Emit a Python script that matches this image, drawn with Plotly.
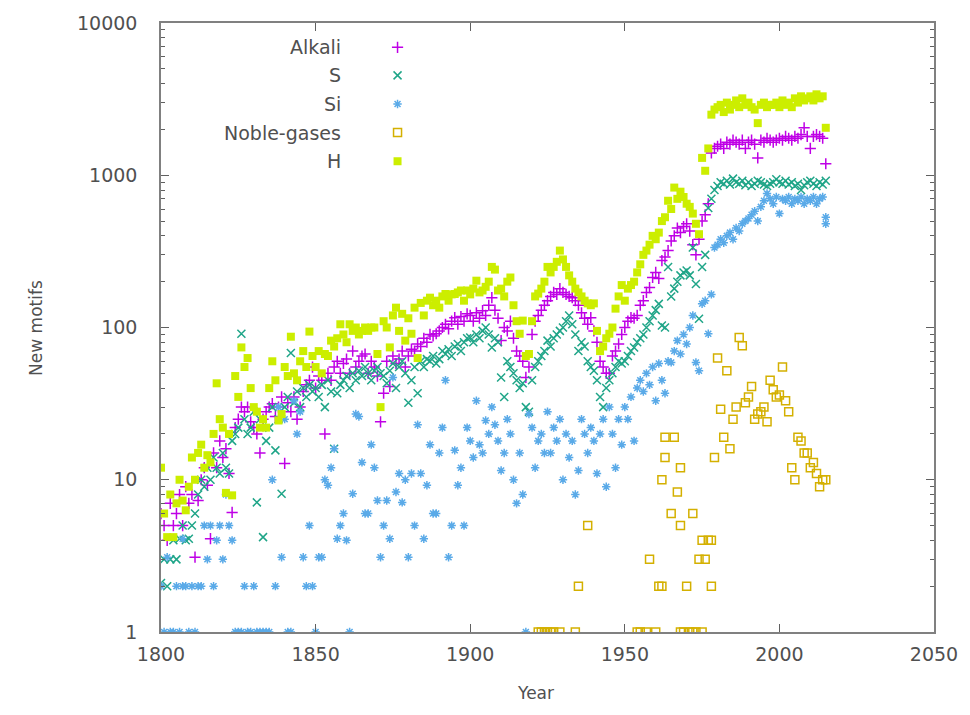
import plotly.graph_objects as go

years = list(range(1800, 2016))

h_vals = [
    12, 6, 4.2, 8, 4.2, 7, 10, 7.3, 6.3, 9,
    14, 10, 15, 17, 12, 14.5, 13, 20, 43, 25,
    22, 8.2, 20, 7.9, 48, 35, 74, 55, 63, 40,
    30, 28, 22, 25, 22, 40, 60, 45, 24.5, 27,
    55, 48, 87, 50, 45, 60, 70, 55, 94, 65,
    55, 70, 50, 67, 65, 82, 75, 85, 105, 90,
    80, 105, 95, 100, 90, 95, 100, 95, 100, 100,
    67, 30, 110, 100, 74, 120, 135, 95, 123, 82,
    115, 91, 135, 63, 145, 120, 150, 157, 140, 150,
    135, 160, 166, 150, 165, 166, 170, 175, 150, 175,
    165, 180, 203, 170, 175, 185, 200, 250, 240, 175,
    180, 160, 200, 213, 140, 110, 91, 111, 65, 67,
    110, 160, 167, 180, 200, 250, 230, 250, 270, 320,
    280, 250, 220, 200, 180, 170, 160, 150, 144, 140,
    144, 95, 70, 75, 85, 91, 100, 133, 160, 190,
    150, 180, 190, 200, 230, 260, 300, 320, 350, 400,
    380, 420, 500, 530, 680, 600, 830, 700, 780, 720,
    650, 620, 560, 480, 410, 1300, 1070, 1500, 2500, 2700,
    2800, 2900, 2600, 3000, 2700, 2900, 3100, 2800, 3200, 2900,
    3000, 2800, 2700, 2200, 2900, 3000, 2800, 2900, 2900, 3000,
    2800, 3100, 2900, 3000, 2800, 3200, 3000, 3300, 3100, 3200,
    3300, 3100, 3400, 3200, 3300, 2050,
]

alkali_vals = [
    6, 5, 4, 7, 5, 6, 8, 5, 9, 7,
    8, 3.1, 7.3, 10, 12, 9.2, 4.1, 15, 12, 18,
    14, 16, 11, 6.1, 22, 25, 30, 28, 30, 24,
    22, 20, 15, 25, 28, 30, 31.6, 26, 30, 35,
    12.8, 32, 28, 35, 25, 30, 38, 42, 45, 55,
    40, 48, 45, 20, 50, 45, 55, 60, 50, 58,
    62, 50, 70, 55, 60, 65, 67, 50, 60, 55,
    48, 24, 37, 60, 41, 65, 58, 62, 70, 55,
    65, 72, 70, 78, 75, 85, 80, 90, 88, 91,
    95, 100, 105, 98, 110, 116, 105, 118, 110, 123,
    120, 110, 125, 115, 129, 120, 140, 157, 130, 115,
    82, 100, 95, 110, 85, 70, 65, 60, 47, 55,
    90, 110, 120, 130, 140, 150, 160, 170, 165, 180,
    170, 165, 160, 157, 150, 140, 125, 115, 105, 116,
    95, 80, 60, 55, 50, 50, 65, 70, 78, 90,
    100, 110, 116, 115, 120, 140, 150, 170, 183, 213,
    230, 210, 275, 290, 320, 370, 400, 450, 420, 460,
    480, 430, 350, 300, 380, 500, 550, 650, 1400, 1500,
    1550, 1600, 1500, 1650, 1600, 1700, 1650, 1600, 1700, 1500,
    1650, 1700, 1600, 1300, 1700, 1650, 1750, 1700, 1650, 1700,
    1750, 1700, 1800, 1750, 1700, 1800, 1750, 1850, 2050, 1800,
    1500, 1800, 1850, 1800, 1750, 1190,
]

s_vals = [
    2.1, 3, 2, 3, 4, 3, 4.1, 5, 4, 4.1,
    5, 6, 8, 10, 9, 12, 10, 14, 12, 11,
    15, 12, 11, 18, 20, 22, 91, 25, 20, 22,
    28, 7.1, 25, 4.2, 18, 22, 30, 15.6, 25, 8.1,
    30, 35, 68, 32, 38, 30, 40, 35, 42, 38,
    40, 35, 42, 30, 45, 38, 16, 37, 42, 45,
    48, 40, 50, 45, 52, 48, 55, 50, 45, 52,
    55, 50, 48, 43, 52, 58, 40, 55, 60, 50,
    32, 45, 55, 37, 60, 55, 62, 60, 65, 58,
    62, 70, 67, 72, 65, 75, 78, 70, 80, 85,
    86, 80, 90, 85, 95, 100, 90, 74, 85, 80,
    47, 35, 60, 55, 50, 45, 40, 43, 30, 28,
    45, 55, 60, 65, 70, 82, 75, 85, 90, 95,
    100, 110, 120, 105, 90, 70, 80, 75, 60, 55,
    52, 45, 35, 30, 40, 45, 50, 55, 60, 58,
    60, 65, 70, 74, 80, 85, 90, 100, 110, 120,
    130, 143, 103, 100, 250, 160, 180, 200, 220, 230,
    237, 220, 335, 193, 114, 250, 300, 610, 700, 800,
    850, 900, 880, 920, 870, 950, 900, 880, 920, 860,
    900, 850, 880, 920, 900, 870, 850, 880, 900, 940,
    900, 880, 920, 870, 900, 850, 880, 800, 860, 900,
    920, 880, 850, 900, 870, 920,
]

si_years = [
    1800, 1801, 1802, 1803, 1804, 1805, 1806, 1807, 1807, 1808, 1809,
    1810, 1811, 1812, 1813, 1814, 1815, 1816, 1817, 1818, 1819,
    1820, 1821, 1822, 1823, 1824, 1825, 1826, 1827, 1828, 1829,
    1830, 1831, 1832, 1833, 1834, 1835, 1836, 1837, 1838, 1839,
    1840, 1841, 1842, 1843, 1844, 1845, 1846, 1847, 1848, 1849,
    1850, 1851, 1852, 1853, 1854, 1855, 1856, 1857, 1858, 1859,
    1860, 1861, 1862, 1863, 1864, 1865, 1866, 1867, 1868, 1869,
    1870, 1871, 1872, 1873, 1874, 1875, 1876, 1877, 1878, 1879,
    1880, 1881, 1882, 1883, 1884, 1885, 1886, 1887, 1888, 1889,
    1890, 1891, 1892, 1893, 1894, 1895, 1896, 1897, 1898, 1899,
    1900, 1901, 1902, 1903, 1904, 1905, 1906, 1907, 1908, 1909,
    1910, 1911, 1912, 1913, 1914, 1915, 1916, 1917, 1918, 1919,
    1920, 1921, 1922, 1923, 1924, 1925, 1926, 1927, 1928, 1929,
    1930, 1931, 1932, 1933, 1934, 1935, 1936, 1937, 1938, 1939,
    1940, 1941, 1942, 1943, 1944, 1945, 1946, 1947, 1948, 1949,
    1950, 1951, 1952, 1953, 1954, 1955, 1956, 1957, 1958, 1959,
    1960, 1961, 1962, 1963, 1964, 1965, 1966, 1967, 1968, 1969,
    1970, 1971, 1972, 1973, 1974, 1975, 1976, 1977, 1978, 1979,
    1980, 1981, 1982, 1983, 1984, 1985, 1986, 1987, 1988, 1989,
    1990, 1991, 1992, 1993, 1994, 1995, 1996, 1997, 1998, 1999,
    2000, 2001, 2002, 2003, 2004, 2005, 2006, 2007, 2008, 2009,
    2010, 2011, 2012, 2013, 2014, 2015, 2015,
]
si_vals = [
    2, 1, 3.1, 1, 1, 2, 1, 4.1, 2, 2, 1,
    2, 1, 2, 2, 5, 3, 5, 2, 4, 5,
    3, 8, 5, 4, 1, 1, 1, 2, 1, 1,
    2, 1, 1, 1, 1, 1, 10, 2, 30, 3.1,
    25, 1, 1, 33, 20, 28, 3.1, 2, 5, 2,
    1, 3.1, 3.1, 10, 9.2, 12, 16, 4.1, 5, 6,
    4, 1, 8.1, 27, 26, 13, 6, 6, 17, 12,
    7.3, 3.1, 5, 7.3, 4.1, 47, 8.3, 11, 7.1, 10,
    3.1, 11, 5, 23, 11, 4.1, 9.2, 17, 6, 6,
    15, 22, 45, 3.1, 5, 15.6, 9.2, 12, 5, 22,
    18, 14, 33, 17, 15, 24.5, 20, 30, 23, 18,
    11.5, 15, 25, 20, 10, 7, 15, 8, 1, 27,
    22, 12, 18, 20, 15, 28, 15, 22, 18, 25,
    10, 20, 14, 18, 8, 11.5, 25, 20, 15, 22,
    18, 11, 20, 25, 9, 30, 20, 12, 25, 17,
    30, 25, 35, 18, 40, 45, 38, 50, 42, 55,
    33, 58, 45, 37, 60, 59, 70, 82, 67, 90,
    78, 100, 120, 59, 52, 143, 150, 91, 165, 335,
    350, 380, 360, 400, 420, 380, 450, 430, 480, 500,
    520, 550, 580, 500, 620, 680, 760, 700, 650, 720,
    560, 700, 680, 720, 650, 700, 680, 720, 650, 700,
    680, 720, 650, 700, 720, 480, 530,
]

noble_years = [
    1922, 1923, 1924, 1925, 1926, 1927, 1929, 1934, 1935, 1938,
    1954, 1955, 1957, 1958, 1960, 1961, 1962, 1962, 1963, 1963,
    1965, 1966, 1967, 1968, 1968, 1968, 1969, 1970, 1971, 1972,
    1972, 1973, 1974, 1975, 1975, 1976, 1977, 1978, 1978, 1979,
    1980, 1981, 1982, 1983, 1984, 1985, 1986, 1987, 1988, 1989,
    1990, 1991, 1992, 1993, 1994, 1995, 1996, 1997, 1998, 1999,
    2000, 2001, 2002, 2003, 2004, 2005, 2006, 2007, 2008, 2009,
    2010, 2011, 2012, 2013, 2014, 2015,
]
noble_vals = [
    1, 1, 1, 1, 1, 1, 1, 1, 2, 5,
    1, 1, 1, 3, 1, 2, 2, 10, 14, 19,
    6, 19, 8.3, 5, 12, 1, 1, 2, 1, 6,
    1, 1, 3, 4, 1, 3, 4, 2, 4, 14,
    63, 29, 19, 52, 16, 25, 30, 86, 76, 32,
    35, 41, 25, 27, 28, 30, 24, 45, 39, 35,
    36, 55, 33, 28, 12, 10, 19, 18, 15, 15,
    12, 13, 11, 9, 10, 10,
]

series_names = ["Alkali", "S", "Si", "Noble-gases", "H"]
colors = {"Alkali": "#bf00e6", "S": "#1fa588", "Si": "#5aaae8",
          "Noble-gases": "#d4b000", "H": "#ccee00"}
symbols = {"Alkali": "cross-thin", "S": "x-thin", "Si": "asterisk",
           "Noble-gases": "square-open", "H": "square"}
sizes = {"Alkali": 8, "S": 8, "Si": 7, "Noble-gases": 8, "H": 8}

data = {
    "Alkali": (years, alkali_vals),
    "S": (years, s_vals),
    "Si": (si_years, si_vals),
    "Noble-gases": (noble_years, noble_vals),
    "H": (years, h_vals),
}

def marker(name):
    m = dict(symbol=symbols[name], size=sizes[name], color=colors[name])
    if name != "H":
        m["line"] = dict(color=colors[name], width=1.5)
    return m

fig = go.Figure()
for name in series_names:
    xs, ys = data[name]
    fig.add_trace(go.Scatter(x=xs, y=ys, mode="markers", name=name,
                             marker=marker(name), showlegend=False))

# legend (gnuplot style: text right-aligned, sample to the right)
leg_y = [0.960, 0.914, 0.867, 0.820, 0.773]
for name, ly in zip(series_names, leg_y):
    fig.add_trace(go.Scatter(x=[0.306], y=[ly], mode="markers", marker=marker(name),
                             xaxis="x2", yaxis="y2", showlegend=False, hoverinfo="skip"))
    fig.add_annotation(x=0.235, y=ly, xref="paper", yref="paper", text=name,
                       showarrow=False, xanchor="right", yanchor="middle",
                       font=dict(family="DejaVu Sans", size=19, color="#505050"))

axis_font = dict(family="DejaVu Sans", size=19, color="#505050")
fig.update_layout(
    width=970, height=715,
    margin=dict(l=161, r=36, t=20, b=83),
    paper_bgcolor="white", plot_bgcolor="white",
    font=dict(family="DejaVu Sans", color="#505050"),
    xaxis=dict(range=[1800, 2050], dtick=50, tick0=1800, ticks="inside", ticklen=8,
               showline=True, linecolor="#808080", linewidth=1.5, mirror="ticks",
               tickcolor="#606060", showgrid=False, zeroline=False,
               tickfont=axis_font, ticklabelstandoff=4),
    yaxis=dict(type="log", range=[0, 4], ticks="inside", ticklen=8,
               showline=True, linecolor="#808080", linewidth=1.5, mirror="ticks",
               tickcolor="#606060", showgrid=False, zeroline=False,
               tickvals=[1, 10, 100, 1000, 10000],
               ticktext=["1", "10", "100", "1000", "10000"],
               tickfont=axis_font, ticklabelstandoff=18,
               minor=dict(ticks="inside", ticklen=4, tickcolor="#606060",
                          tickvals=[2, 3, 4, 5, 6, 7, 8, 9, 20, 30, 40, 50, 60, 70, 80, 90,
                                    200, 300, 400, 500, 600, 700, 800, 900,
                                    2000, 3000, 4000, 5000, 6000, 7000, 8000, 9000],
                          showgrid=False)),
    xaxis2=dict(range=[0, 1], overlaying="x", visible=False, showline=False,
                ticks="", showgrid=False, zeroline=False),
    yaxis2=dict(range=[0, 1], overlaying="y", visible=False, showline=False,
                ticks="", showgrid=False, zeroline=False),
)
fig.add_annotation(x=-0.178, y=0.5, xref="paper", yref="paper", text="New motifs",
                   textangle=-90, showarrow=False,
                   font=dict(family="DejaVu Sans", size=17, color="#505050"))
fig.add_annotation(x=0.485, y=-0.1, xref="paper", yref="paper", text="Year",
                   showarrow=False, yanchor="middle",
                   font=dict(family="DejaVu Sans", size=17, color="#505050"))

fig.write_html("out.html", config={"displayModeBar": False})
